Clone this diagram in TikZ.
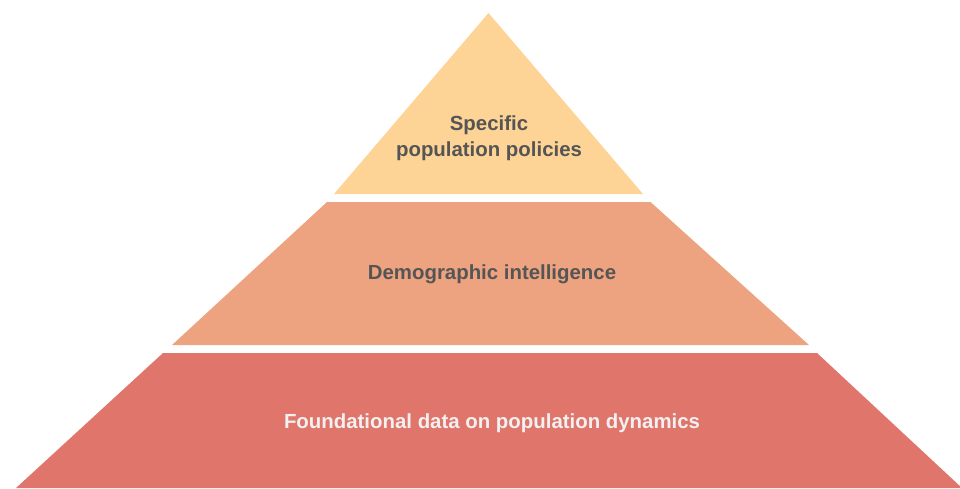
\documentclass[tikz,border=0pt]{standalone}
\usepackage{fontspec}
\setmainfont{Liberation Sans}
\definecolor{topc}{HTML}{FDD495}
\definecolor{midc}{HTML}{EDA37F}
\definecolor{botc}{HTML}{E0756C}
\definecolor{darktext}{HTML}{555555}
\definecolor{lighttext}{HTML}{F3F0F0}
\begin{document}
\begin{tikzpicture}[x=1pt,y=-1pt,
  lbl/.style={font=\bfseries\fontsize{20.4}{26}\selectfont, align=center, inner sep=0pt}]
\useasboundingbox (0,0) rectangle (960,488);
\fill[topc] (488.5,13) -- (643,194) -- (334,194) -- cycle;
\fill[midc] (327,202) -- (650.5,202) -- (809,345) -- (172,345) -- cycle;
\fill[botc] (163,353) -- (817,353) -- (962,488) -- (16,488) -- cycle;
\node[lbl, text=darktext] (t) at (489,138) {Specific\\population policies};
\node[lbl, text=darktext] (m) at (492,274) {Demographic intelligence};
\node[lbl, text=lighttext] (b) at (492,423) {Foundational data on population dynamics};
\end{tikzpicture}
\end{document}
